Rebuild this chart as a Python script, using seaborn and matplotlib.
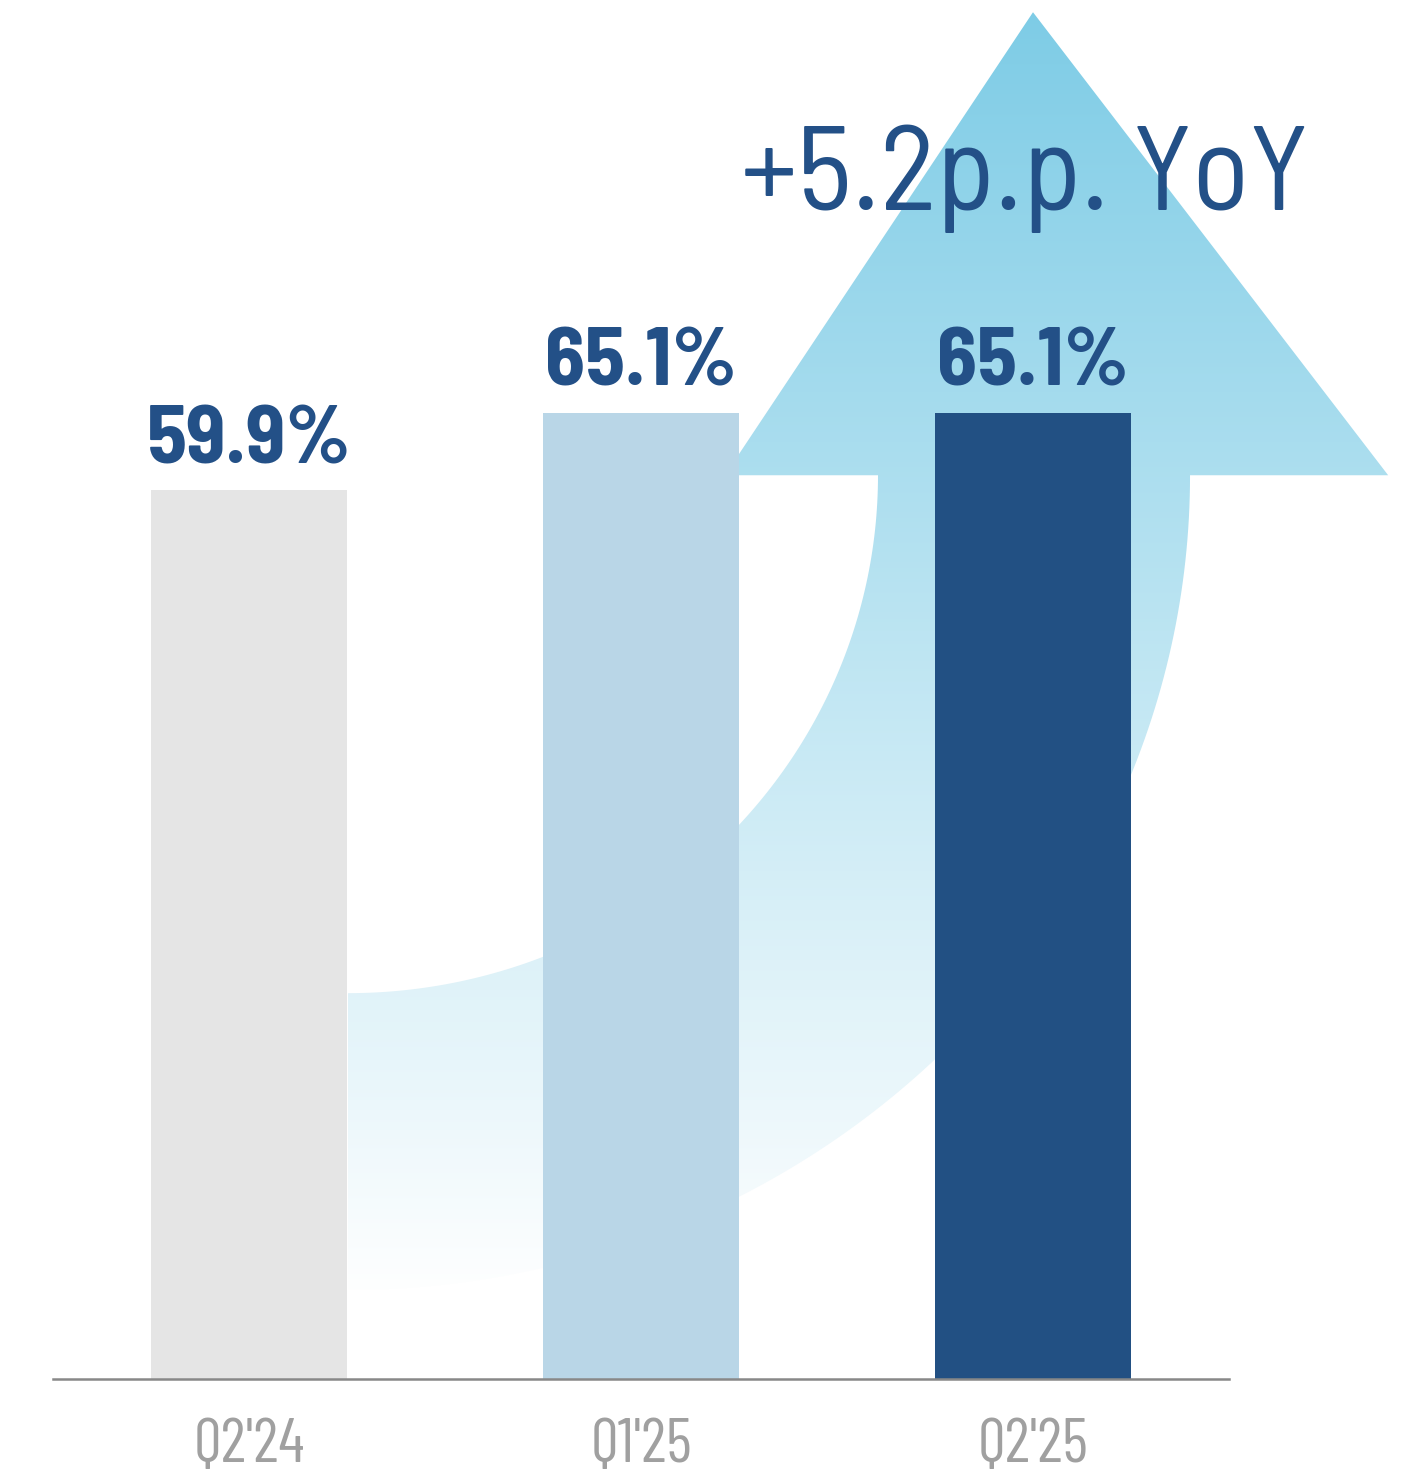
import numpy as np
import pandas as pd
import matplotlib
matplotlib.use("Agg")
import matplotlib.pyplot as plt
from matplotlib.path import Path
from matplotlib.patches import PathPatch
import seaborn as sns

# Data
quarters = ["Q2'24", "Q1'25", "Q2'25"]
values = [59.9, 65.1, 65.1]
bar_colors = ["#e5e5e5", "#b9d6e7", "#225083"]
change_label = "+5.2p.p. YoY"

sns.set_style("white")
SEMI = ["Barlow Semi Condensed", "DejaVu Sans"]
COND = ["Barlow Condensed", "DejaVu Sans"]
plt.rcParams["font.family"] = SEMI

W, H, DPI = 1404, 1474, 100
fig = plt.figure(figsize=(W / DPI, H / DPI), dpi=DPI)
base_px = 1379
ax = fig.add_axes([0, (H - base_px) / H, 1, base_px / H])

df = pd.DataFrame({"quarter": quarters, "value": values})
sns.barplot(data=df, x="quarter", y="value", hue="quarter", palette=bar_colors,
            width=0.5, saturation=1, legend=False, ax=ax, zorder=2,
            linewidth=0)

# axis scaling: 392 px per category, 14.84 px per percentage point
xlim = (-249 / 392, (W - 249) / 392)
ylim = (0, base_px / 14.84)

# Curved gradient arrow behind the bars
cx, cy = 0.2526, 60.9
rxi, ryi = 1.352, 34.9
rxo, ryo = 2.148, 54.9
th_in = np.linspace(-np.pi / 2, 0, 120)
th_out = np.linspace(0, -np.pi / 2, 120)
inner = np.column_stack([cx + rxi * np.cos(th_in), cy + ryi * np.sin(th_in)])
outer = np.column_stack([cx + rxo * np.cos(th_out), cy + ryo * np.sin(th_out)])
head = np.array([[1.214, cy], [2.0, 92.1], [2.906, cy]])
verts = np.vstack([inner, head, outer, inner[:1]])
codes = [Path.MOVETO] + [Path.LINETO] * (len(verts) - 2) + [Path.CLOSEPOLY]
arrow_path = Path(verts, codes)
clip_patch = PathPatch(arrow_path, facecolor="none", edgecolor="none",
                       transform=ax.transData)
ax.add_patch(clip_patch)

n = 400
yy = np.linspace(ylim[0], ylim[1], n)
top_y, bot_y = 92.1, 5.3
t = np.clip((top_y - yy) / (top_y - bot_y), 0, 1)
c0 = np.array([126, 204, 230]) / 255
rgb = c0[None, :] * (1 - t[:, None]) + 1.0 * t[:, None]
img = rgb.reshape(n, 1, 3)
im = ax.imshow(img, extent=(xlim[0], xlim[1], ylim[0], ylim[1]), origin="lower",
               aspect="auto", zorder=0.5, interpolation="bilinear")
im.set_clip_path(clip_patch)

# Value labels
for i, v in enumerate(values):
    ax.text(i, v + 1.82, f"{v:.1f}%", ha="center", va="baseline",
            fontsize=59, fontweight="bold", color="#235087", zorder=3,
            family=SEMI)

# Change annotation
ax.text(1.98, (base_px - 210) / 14.84, change_label, ha="center", va="baseline",
        fontsize=86, color="#235087", zorder=3, family=SEMI)

ax.set_xlim(*xlim)
ax.set_ylim(*ylim)
ax.set_xlabel("")
ax.set_ylabel("")
ax.set_yticks([])
for s in ["top", "right", "left"]:
    ax.spines[s].set_visible(False)
ax.spines["bottom"].set_bounds(-0.5, 2.5)
ax.spines["bottom"].set_color("#888888")
ax.spines["bottom"].set_linewidth(1.8)
ax.spines["bottom"].set_zorder(3)
ax.tick_params(axis="x", length=0, pad=28, labelsize=45, labelcolor="#a0a0a0")
for lbl in ax.get_xticklabels():
    lbl.set_family(COND)
ax.patch.set_alpha(0)

fig.savefig("out.png", dpi=DPI, facecolor="white")
